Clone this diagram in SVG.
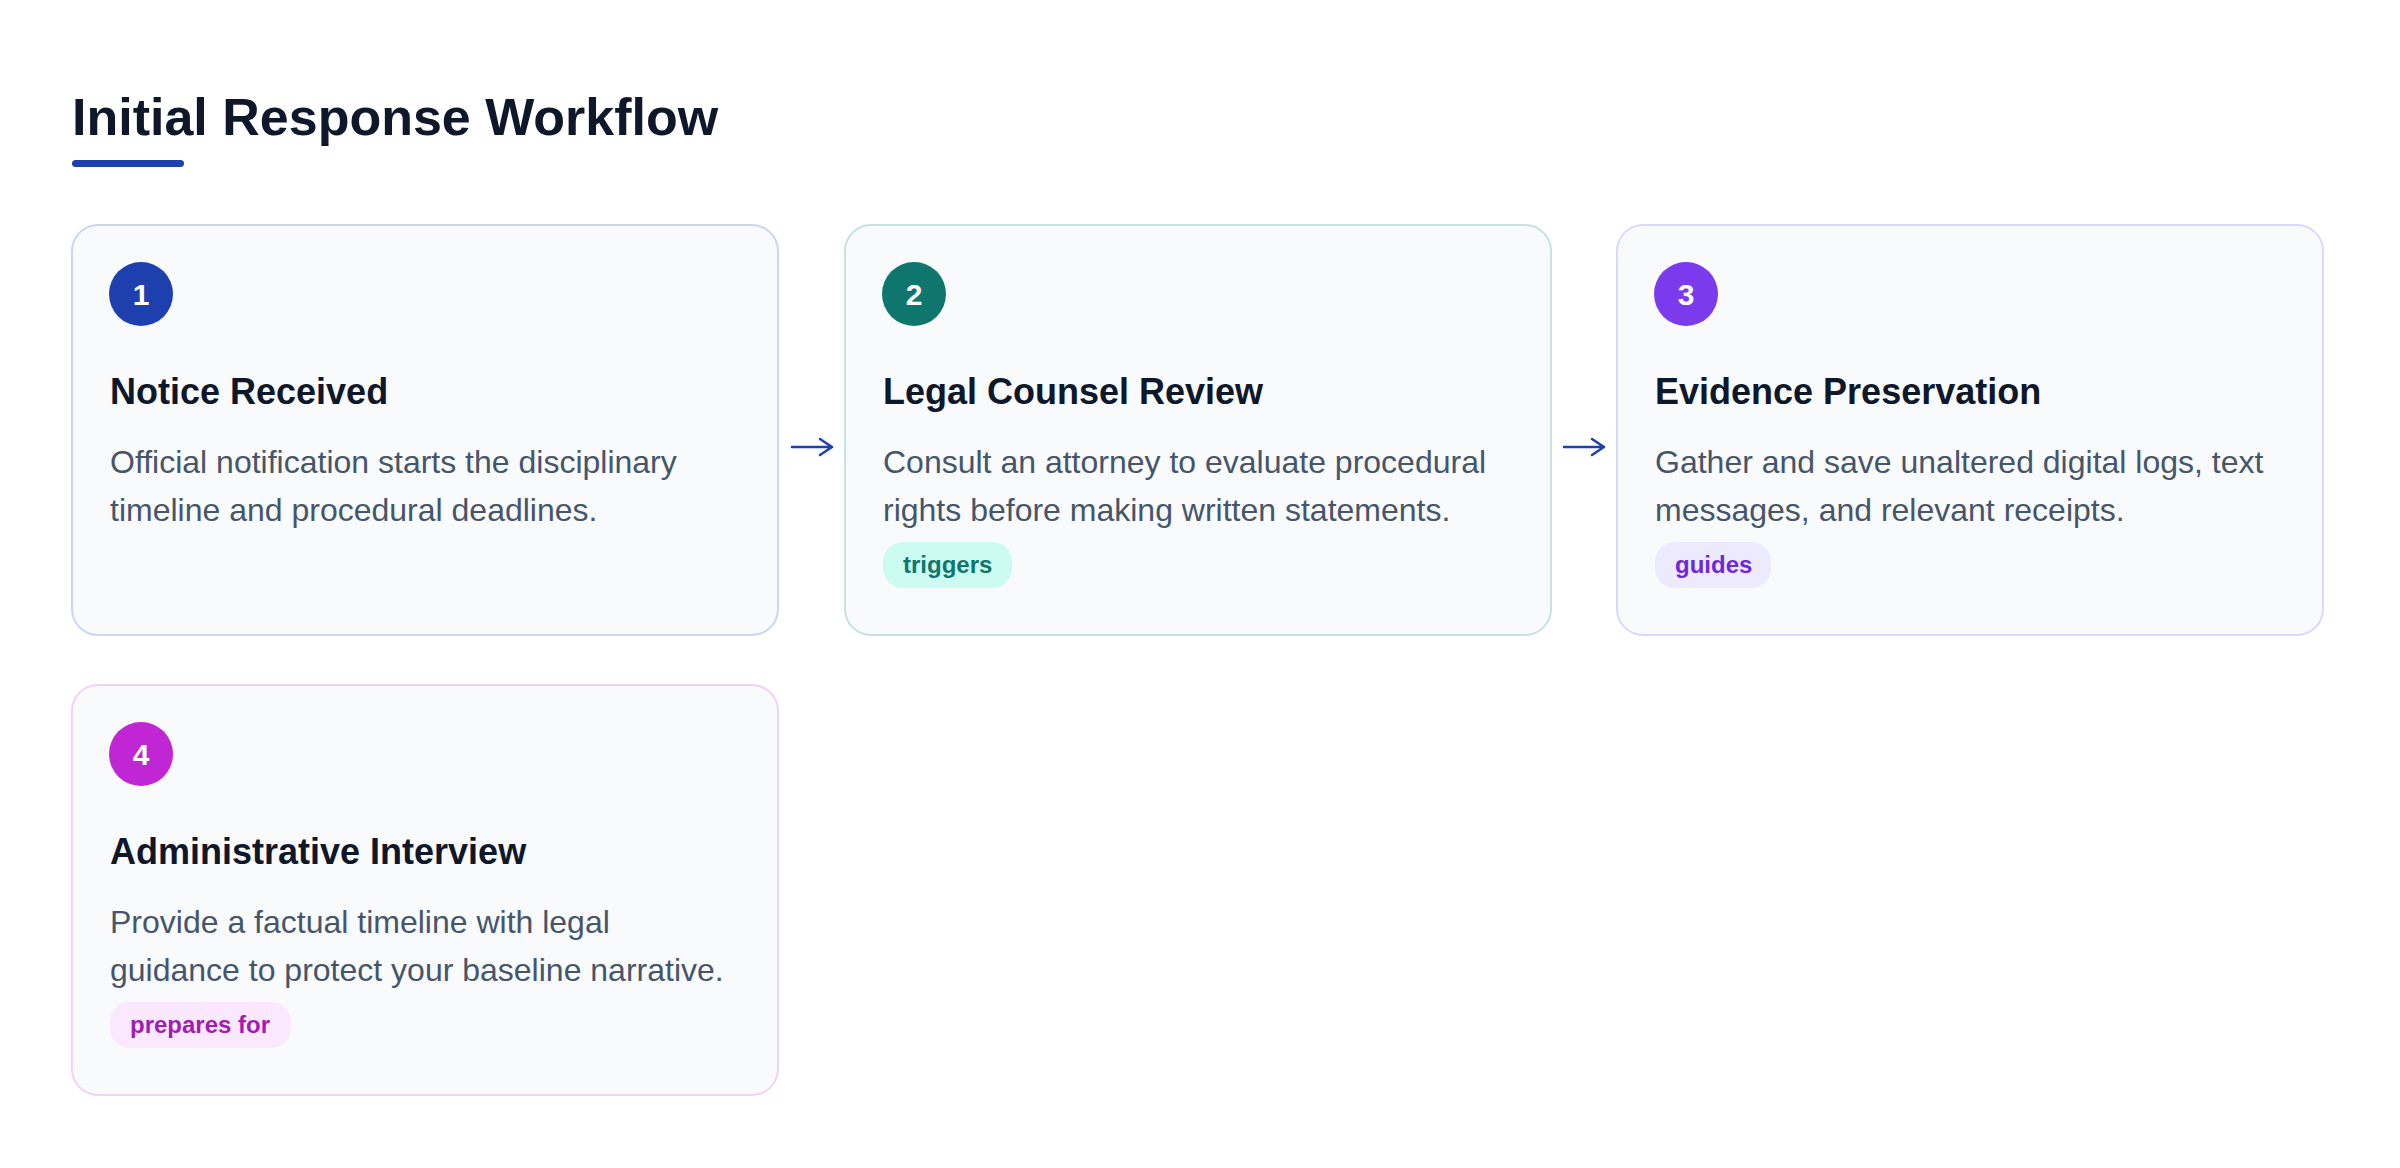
<svg xmlns="http://www.w3.org/2000/svg" width="2400" height="1168" viewBox="0 0 2400 1168">
<style>
text{font-family:"Liberation Sans",Arial,Helvetica,sans-serif}
.card{fill:#f8fafc;stroke-width:2}
.h1{font-size:52px;font-weight:700;fill:#0f172a}
.num{font-size:30px;font-weight:700;fill:#ffffff;text-anchor:middle}
.ttl{font-size:36px;font-weight:700;fill:#0f172a}
.desc{font-size:32px;fill:#475569}
.badge{font-size:24px;font-weight:700}
.arrow{fill:none;stroke:#1e40af;stroke-width:2.5;stroke-linecap:round;stroke-linejoin:round}
</style>
<rect x="0" y="0" width="2400" height="1168" fill="#ffffff"/>
<text class="h1" x="72" y="135">Initial Response Workflow</text>
<rect x="72" y="160" width="112" height="7" rx="3.5" fill="#1e40af"/>

<g id="connectors">
<path class="arrow" d="M792 447H832M820 439L832 447L820 455"/>
<path class="arrow" d="M1564 447H1604M1592 439L1604 447L1592 455"/>
</g>

<g id="node1">
<rect class="card" x="72" y="225" width="706" height="410" rx="26" stroke="#cbd5f0"/>
<circle cx="141" cy="294" r="32" fill="#1e40af"/>
<text class="num" x="141" y="305">1</text>
<text class="ttl" x="110" y="404">Notice Received</text>
<text class="desc" x="110" y="473">Official notification starts the disciplinary</text>
<text class="desc" x="110" y="521">timeline and procedural deadlines.</text>
</g>

<g id="node2">
<rect class="card" x="845" y="225" width="706" height="410" rx="26" stroke="#c6e2dd"/>
<circle cx="914" cy="294" r="32" fill="#0f766e"/>
<text class="num" x="914" y="305">2</text>
<text class="ttl" x="883" y="404">Legal Counsel Review</text>
<text class="desc" x="883" y="473">Consult an attorney to evaluate procedural</text>
<text class="desc" x="883" y="521">rights before making written statements.</text>
<rect x="883" y="542" width="129" height="46" rx="20" fill="#ccfbf1"/>
<text class="badge" x="903" y="573" fill="#0f766e">triggers</text>
</g>

<g id="node3">
<rect class="card" x="1617" y="225" width="706" height="410" rx="26" stroke="#ddd6fe"/>
<circle cx="1686" cy="294" r="32" fill="#7c3aed"/>
<text class="num" x="1686" y="305">3</text>
<text class="ttl" x="1655" y="404">Evidence Preservation</text>
<text class="desc" x="1655" y="473">Gather and save unaltered digital logs, text</text>
<text class="desc" x="1655" y="521">messages, and relevant receipts.</text>
<rect x="1655" y="542" width="116" height="46" rx="20" fill="#ede9fe"/>
<text class="badge" x="1675" y="573" fill="#6d28d9">guides</text>
</g>

<g id="node4">
<rect class="card" x="72" y="685" width="706" height="410" rx="26" stroke="#f0d2f5"/>
<circle cx="141" cy="754" r="32" fill="#c026d3"/>
<text class="num" x="141" y="765">4</text>
<text class="ttl" x="110" y="864">Administrative Interview</text>
<text class="desc" x="110" y="933">Provide a factual timeline with legal</text>
<text class="desc" x="110" y="981">guidance to protect your baseline narrative.</text>
<rect x="110" y="1002" width="181" height="46" rx="20" fill="#fae8ff"/>
<text class="badge" x="130" y="1033" fill="#a21caf">prepares for</text>
</g>
</svg>
